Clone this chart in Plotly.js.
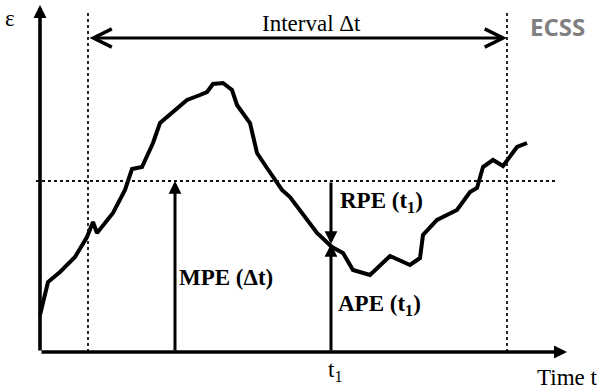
<!DOCTYPE html>
<html>
<head>
<meta charset="utf-8">
<script src="https://cdn.plot.ly/plotly-3.0.1.min.js"></script>
<style>
    html, body { margin: 0; padding: 0; background: #fff; }
    #errorPlot { width: 615px; height: 390px; }
</style>
</head>
<body>
<div id="errorPlot"></div>
<script>
    /*--------------------------------------------------------------------------
        +++ Data: pointing error over time (schematic)
        --------------------------------------------------------------------------*/
    var timeVals = [0, 8, 20, 35, 47, 53, 57, 73, 85, 92, 102, 113, 120, 132, 147, 160, 167, 173, 183, 192,
        197, 210, 217, 227, 242, 250, 260, 277, 292, 303, 313, 330, 350, 370, 380, 383, 397, 417, 430, 437,
        443, 453, 463, 477, 487];
    var errorVals = [37, 70, 80, 95, 115, 130, 119, 139, 162, 183, 185, 209, 229, 239, 252, 257, 260, 268, 269, 262,
        247, 229, 199, 184, 162, 155, 142, 119, 105, 99, 82, 77, 96, 87, 94, 117, 132, 142, 160, 164,
        185, 192, 186, 205, 209];

    // key positions on the diagram
    var intervalStart = 48;
    var intervalEnd = 467;
    var meanError = 171;
    var mpeTime = 135;
    var t1 = 291;
    var errorAtT1 = 108;
    var tMax = 527;
    var eMax = 347;

    var black = '#000';

    //Set up the error curve
    var trace1 = {
        x: timeVals,
        y: errorVals,
        type: 'scatter',
        mode: 'lines',
        line: { color: black, width: 4 },
        hoverinfo: 'skip'
    };

    // helper for an arrow drawn as an annotation
    function arrow(x0, y0, x1, y1, opts) {
        var a = {
            x: x1, y: y1, ax: x0, ay: y0,
            xref: 'x', yref: 'y', axref: 'x', ayref: 'y',
            text: '', showarrow: true,
            arrowcolor: black,
            arrowwidth: 3.6,
            arrowhead: 2,
            arrowsize: 0.72,
            standoff: 0, startstandoff: 0
        };
        for (var k in opts) a[k] = opts[k];
        return a;
    }

    function label(x, y, text, opts) {
        var a = {
            x: x, y: y, xref: 'x', yref: 'y', text: text, showarrow: false,
            font: { family: 'Liberation Serif, Times New Roman, serif', size: 23, color: black }
        };
        for (var k in opts) a[k] = opts[k];
        return a;
    }

    var serifBold = { family: 'Liberation Serif, Times New Roman, serif', size: 23, color: black, weight: 'bold' };

    var annotations = [
        // axes
        arrow(0, 0, 0, eMax, {}),
        arrow(0, 0, tMax, 0, {}),
        // interval arrow (both ends open heads)
        arrow(intervalStart, 314, intervalEnd, 314, {
            arrowwidth: 3, arrowhead: 5, arrowsize: 1.2,
            arrowside: 'end+start', startarrowhead: 5, startarrowsize: 1.2
        }),
        // MPE, RPE, APE arrows
        arrow(mpeTime, 0, mpeTime, meanError, { arrowwidth: 3, arrowsize: 0.85 }),
        arrow(t1, meanError, t1, errorAtT1, { arrowwidth: 3, arrowsize: 0.85 }),
        arrow(t1, 0, t1, errorAtT1, { arrowwidth: 3, arrowsize: 0.85 }),
        // text
        label(-30, 334, '\u03b5', { font: { family: 'Liberation Serif, serif', size: 23, color: black } }),
        label(271, 329, 'Interval \u0394t'),
        label(517, 326, 'ECSS', {
            font: { family: 'Open Sans, Liberation Sans, sans-serif', size: 24, color: '#808080', weight: 'bold' }
        }),
        label(137, 75, 'MPE (\u0394t)', { xanchor: 'left', font: serifBold }),
        label(298, 150, 'RPE (t<sub>1</sub>)', { xanchor: 'left', font: serifBold }),
        label(296, 47, 'APE (t<sub>1</sub>)', { xanchor: 'left', font: serifBold }),
        label(295, -19, 't<sub>1</sub>'),
        label(527, -25, 'Time t')
    ];

    var dotted = { color: '#111', width: 1.8, dash: 'dot' };
    var shapes = [
        { type: 'line', xref: 'x', yref: 'y', x0: intervalStart, x1: intervalStart, y0: 0, y1: 340, line: dotted },
        { type: 'line', xref: 'x', yref: 'y', x0: intervalEnd, x1: intervalEnd, y0: 0, y1: 340, line: dotted },
        { type: 'line', xref: 'x', yref: 'y', x0: -4, x1: 515, y0: meanError, y1: meanError, line: dotted }
    ];

    var layout = {
        width: 615,
        height: 390,
        margin: { l: 0, r: 0, t: 0, b: 0 },
        paper_bgcolor: '#fff',
        plot_bgcolor: '#fff',
        showlegend: false,
        xaxis: { range: [-40, 575], visible: false, fixedrange: true },
        yaxis: { range: [-38, 352], visible: false, fixedrange: true },
        annotations: annotations,
        shapes: shapes
    };

    //plot it
    Plotly.newPlot('errorPlot', [trace1], layout, { displayModeBar: false, staticPlot: true });
</script>
</body>
</html>
